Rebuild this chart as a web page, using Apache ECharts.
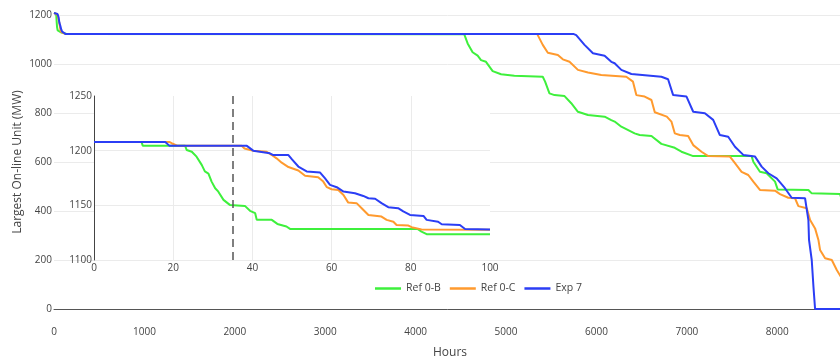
<!DOCTYPE html>
<html>
<head>
<meta charset="utf-8">
<script src="https://cdn.jsdelivr.net/npm/echarts@6/dist/echarts.min.js"></script>
<style>html,body{margin:0;padding:0;background:#fff}#c{width:840px;height:363px}</style>
</head>
<body>
<div id="c"></div>
<script>
// ---- Data ----
const seriesNames = ['Ref 0-B', 'Ref 0-C', 'Exp 7'];
const seriesColors = ['#3ef03c', '#ff9a2e', '#2b3ef5'];

// Main plot: hours vs largest on-line unit (MW)
const refB_main = [[0,1208],[12,1208],[13,1204.6],[23,1204.6],[26,1194],[28,1181],[31,1165],[34,1150],[38,1149.5],[41,1137],[45,1136.7],[49,1129],[82,1128.4],[84,1123.6],[100,1123.5],[150,1122],
  [4538,1121],[4575,1084],[4630,1048],[4686,1034],[4723,1016],[4778,1009],[4852,971],[4945,958],[5092,952],[5406,948],[5432,928],[5480,880],[5536,873],[5647,869],[5721,840],[5795,805],[5906,792],[6090,785],[6164,771],[6201,765],[6275,744],[6293,737],[6422,717],[6478,710],[6608,706],[6718,674],[6866,658],[6940,642],[7070,624],[7716,624],[7735,601],[7808,560],[7882,554],[7975,520],[8004,488],[8344,486],[8381,472],[8695,469],[8714,445],[8740,420]];
const refC_main = [[0,1208],[20,1206],[38,1202],[50,1183],[60,1165],[70,1141],[80,1130],[100,1127.6],[130,1122],
  [5345,1122],[5406,1078],[5462,1046],[5573,1037],[5628,1019],[5702,1009],[5795,976],[5906,965],[6053,955],[6330,948],[6404,928],[6441,873],[6533,867],[6608,853],[6645,803],[6778,785],[6829,765],[6866,717],[6922,710],[7014,706],[7070,669],[7162,642],[7236,624],[7476,622],[7532,595],[7605,560],[7679,547],[7735,520],[7808,486],[7975,483],[8030,469],[8122,454],[8196,452],[8233,420],[8326,411],[8363,363],[8418,329],[8455,282],[8473,241],[8529,207],[8603,200],[8658,159],[8714,125],[8760,90]];
const exp7_main = [[0,1208],[18,1208],[20,1204.5],[39,1204],[50,1192],[60,1168],[70,1156],[80,1141],[90,1132],[100,1128],[130,1122],
  [5750,1122],[5776,1118],[5868,1078],[5961,1044],[6090,1034],[6164,1009],[6201,1003],[6275,976],[6386,959],[6718,948],[6792,938],[6848,873],[6996,867],[7070,805],[7199,799],[7291,772],[7365,710],[7457,703],[7532,662],[7624,629],[7754,622],[7827,581],[7901,554],[7993,533],[8085,493],[8159,454],[8307,452],[8344,363],[8351,282],[8381,200],[8400,91],[8418,0],[8760,0]];

// Inset: first 100 hours
const refB_inset = [[0,1208],[12,1208],[12.3,1204.6],[23,1204.6],[23.4,1200.6],[24.7,1199],[25.9,1194.5],[27.2,1187],[28,1181],[28.9,1179],[29.7,1171.7],[30.6,1165.6],[31.4,1162.5],[32.7,1155],[34.3,1150.4],[38.1,1149.5],[39.4,1145],[40.7,1142.8],[41.1,1136.7],[44.9,1136.7],[46.3,1133],[48.6,1130.6],[49.5,1128.4],[81.7,1128.4],[82.7,1126],[84,1123.6],[100,1123.6]];
const refC_inset = [[0,1208],[19,1208],[19.6,1206.8],[21,1204.6],[37.3,1204.4],[38,1202],[40.2,1200],[43.6,1199],[44.9,1196],[46.1,1193],[47.4,1189],[49.1,1185],[51.6,1181.8],[53.3,1177],[56.6,1175.7],[57.9,1171.7],[58.8,1166.6],[60,1164.7],[61.7,1164],[63,1159.5],[64.2,1152.5],[66.3,1152],[67.6,1147.4],[69.3,1141.2],[72.6,1139.7],[73.9,1136.7],[75.6,1135],[76.4,1132],[79.4,1131.5],[80.2,1130],[82.7,1128],[100,1127.6]];
const exp7_inset = [[0,1208],[18,1208],[19,1204.6],[38.6,1204.4],[40.2,1200],[44.4,1197.6],[45.3,1196],[49.1,1196],[50,1192],[51.6,1185.5],[53.7,1181],[57.1,1180],[58.3,1174.8],[59.6,1168.7],[61.3,1166.6],[63,1162.6],[65.9,1161],[68,1158.6],[69.3,1156.5],[71,1156],[72.6,1152],[74.3,1148.3],[76.8,1147.4],[78.1,1144.4],[79.8,1141.2],[83.2,1140.3],[84,1136.7],[86.9,1135],[87.8,1132.7],[92.4,1132],[93.7,1128.4],[100,1128]];
const insetMarkerHour = 35;

// Tick settings
const mainXTicks = { min: 0, max: 8760, interval: 1000 };
const mainYTicks = { min: 0, max: 1200, interval: 200 };
const insetXTicks = { min: 0, max: 100, interval: 20 };
const insetYTicks = { min: 1100, max: 1250, interval: 50 };

// ---- Chart ----
const FONT = '"Open Sans", "DejaVu Sans", sans-serif';
const TXT = '#444';
const plain = v => String(v);
const chart = echarts.init(document.getElementById('c'), null, { renderer: 'canvas' });

const mainData = [refB_main, refC_main, exp7_main];
const insetData = [refB_inset, refC_inset, exp7_inset];
const series = [];
mainData.forEach((d, i) => series.push({
  name: seriesNames[i], type: 'line', xAxisIndex: 0, yAxisIndex: 0, data: d,
  showSymbol: false, clip: false, z: 2,
  lineStyle: { color: seriesColors[i], width: 2 }, itemStyle: { color: seriesColors[i] }
}));
insetData.forEach((d, i) => series.push({
  name: seriesNames[i], type: 'line', xAxisIndex: 1, yAxisIndex: 1, data: d,
  showSymbol: false, z: 4,
  lineStyle: { color: seriesColors[i], width: 2 }, itemStyle: { color: seriesColors[i] },
  markLine: i === 0 ? {
    silent: true, symbol: 'none', label: { show: false },
    lineStyle: { color: '#555', type: [8, 5], width: 1.5 },
    data: [{ xAxis: insetMarkerHour }]
  } : undefined
}));

chart.setOption({
  animation: false,
  backgroundColor: '#fff',
  textStyle: { fontFamily: FONT },
  grid: [
    { left: 54, right: -6, top: 15, bottom: 54, z: 0, outerBoundsMode: 'none', containLabel: false },
    { left: 94, top: 96, width: 396, height: 164, show: true, backgroundColor: '#fff', borderWidth: 0, z: 1, outerBoundsMode: 'none', containLabel: false }
  ],
  legend: {
    left: 375, top: 283, padding: 0, itemWidth: 26, itemHeight: 2.5, itemGap: 9, icon: 'rect',
    textStyle: { color: TXT, fontSize: 10.5, fontFamily: FONT },
    data: seriesNames
  },
  xAxis: [
    { type: 'value', gridIndex: 0, ...mainXTicks, z: 0,
      axisLine: { show: true, lineStyle: { color: '#555', width: 1 } },
      axisTick: { show: false }, splitLine: { show: false },
      axisLabel: { color: TXT, fontSize: 10, margin: 18, showMaxLabel: false, fontFamily: FONT, formatter: plain },
      name: 'Hours', nameLocation: 'middle', nameGap: 38, nameMoveOverlap: false,
      nameTextStyle: { color: TXT, fontSize: 12, fontFamily: FONT } },
    { type: 'value', gridIndex: 1, ...insetXTicks, z: 1,
      axisLine: { show: false }, axisTick: { show: false },
      splitLine: { show: true, showMinLine: false, showMaxLine: false, lineStyle: { color: '#ebebeb' } },
      axisLabel: { color: TXT, fontSize: 10, margin: 3, fontFamily: FONT, formatter: plain } }
  ],
  yAxis: [
    { type: 'value', gridIndex: 0, ...mainYTicks, z: 0,
      axisLine: { show: false }, axisTick: { show: false },
      splitLine: { show: true, lineStyle: { color: '#ebebeb' } },
      axisLabel: { color: TXT, fontSize: 10, margin: 2, fontFamily: FONT, formatter: plain },
      name: 'Largest On-line Unit (MW)', nameLocation: 'middle', nameGap: 30, nameMoveOverlap: false,
      nameTextStyle: { color: TXT, fontSize: 12, fontFamily: FONT } },
    { type: 'value', gridIndex: 1, ...insetYTicks, z: 1,
      axisLine: { show: true, lineStyle: { color: '#444', width: 1 } }, axisTick: { show: false },
      splitLine: { show: true, showMaxLine: false, lineStyle: { color: '#ebebeb' } },
      axisLabel: { color: TXT, fontSize: 10, margin: 2, fontFamily: FONT, formatter: plain } }
  ],
  series: series
});
</script>
</body>
</html>
